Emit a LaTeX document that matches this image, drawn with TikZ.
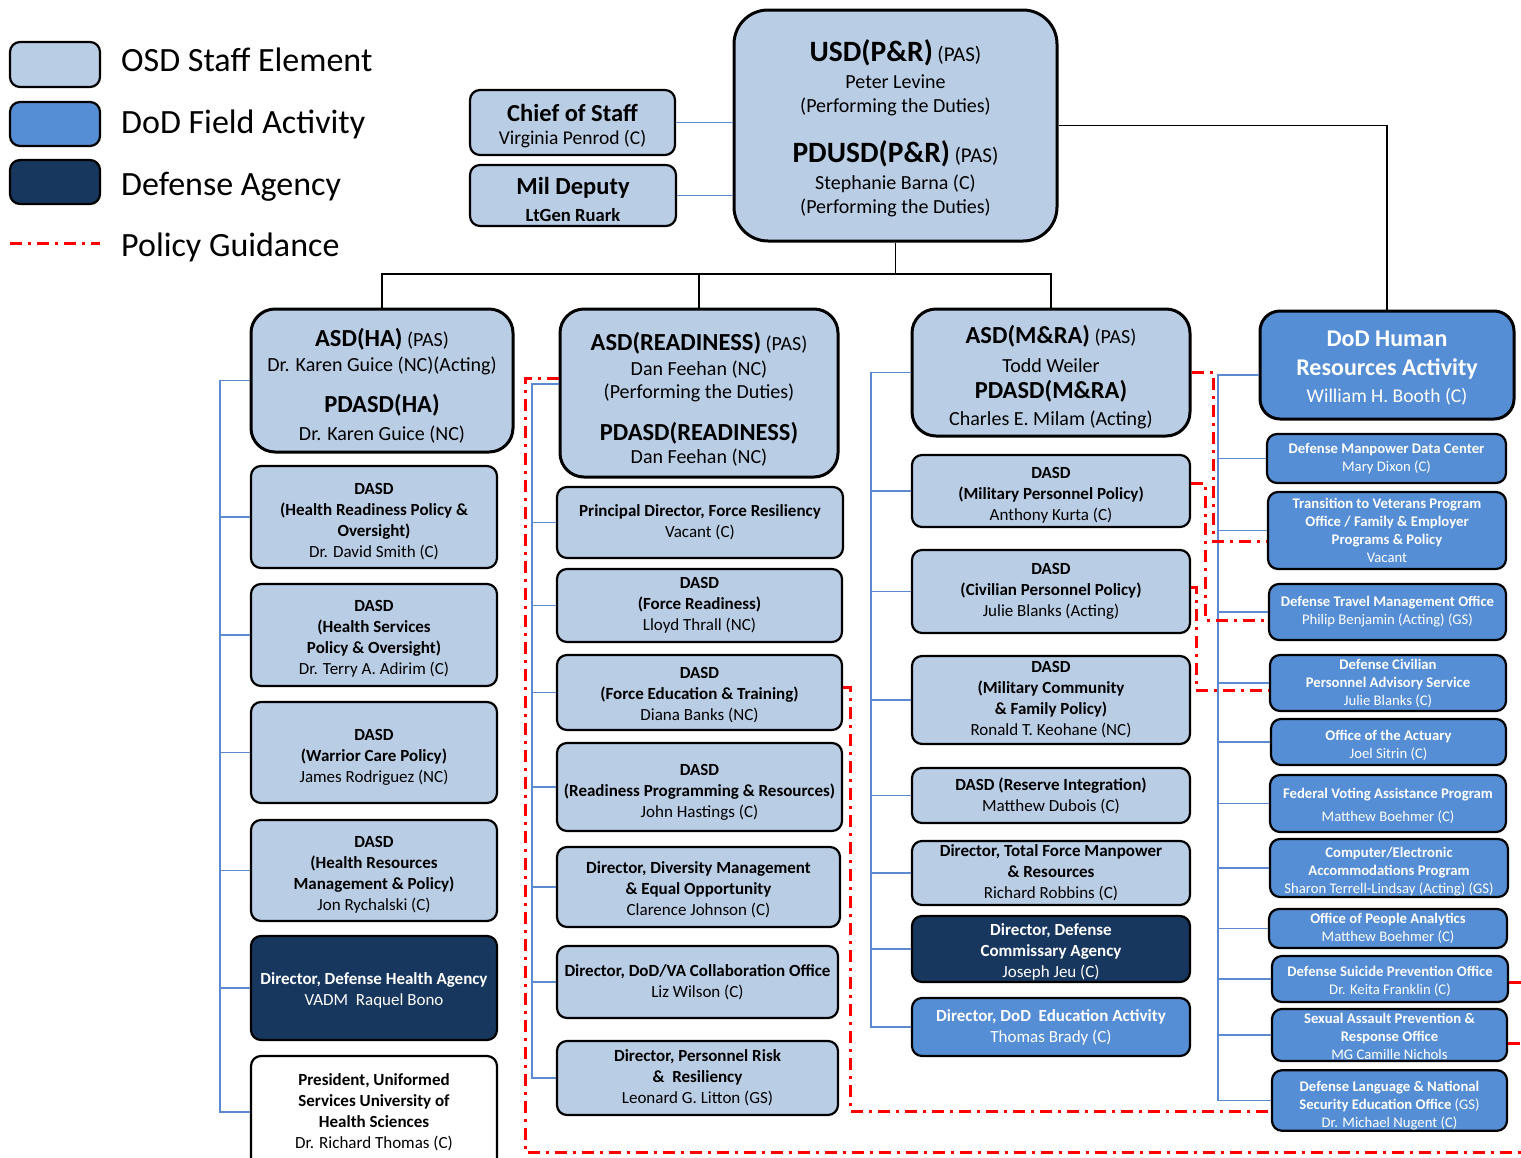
\documentclass[tikz,border=0pt]{standalone}
\usepackage{fontspec}
\setmainfont{Carlito}
\definecolor{osdc}{HTML}{B9CDE5}
\definecolor{fldc}{HTML}{558ED5}
\definecolor{agc}{HTML}{17375E}
\definecolor{linec}{HTML}{5B8AD0}
\newcommand\fs[2]{\fontsize{#1}{#2}\selectfont}
\newcommand\pd[1]{\rule{0pt}{#1pt}}
\newcommand\hd[1]{{\bfseries\fs{24.5}{25}#1}}
\newcommand\bx[7]{%
 \pgfmathsetmacro\bw{#5-#3}\pgfmathsetmacro\bh{#6-#4}%
 \pgfmathsetmacro\bcx{(#3+#5)/2}\pgfmathsetmacro\bcy{(#4+#6)/2}%
 \node[#2, minimum width=\bw pt, minimum height=\bh pt] (#1) at (\bcx,\bcy) {#7};}
\tikzset{
 bx/.style={draw=black, line width=2.2pt, rounded corners=10pt, inner sep=1pt, align=center, text=black, font=\fs{17}{21}},
 lt/.style={bx, fill=osdc},
 md/.style={bx, fill=fldc, text=white},
 dk/.style={bx, fill=agc, text=white},
 wh/.style={bx, fill=white},
 big/.style={rounded corners=24pt, line width=3pt, font=\fs{20}{25}},
 hr/.style={font=\fs{14.7}{18}},
 bl/.style={draw=linec, line width=1.8pt},
 bk/.style={draw=black, line width=1.7pt},
 pg/.style={draw=red, line width=3pt, dash pattern=on 12pt off 6pt on 3pt off 6pt},
 lgt/.style={anchor=base west, inner sep=0pt, font=\fs{34}{40}},
}
\begin{document}
\begin{tikzpicture}[x=1pt,y=-1pt]
\clip (0,0) rectangle (1521,1157);
\fill[white] (0,0) rectangle (1521,1157);
% legend
\bx{lg1}{lt}{10}{42}{100}{87}{}
\bx{lg2}{md}{10}{102}{100}{146}{}
\bx{lg3}{dk}{10}{160}{100}{204}{}
\node[lgt] (lt1) at (121,71) {OSD Staff Element};
\node[lgt] (lt2) at (121,133) {DoD Field Activity};
\node[lgt] (lt3) at (121,195) {Defense Agency};
\node[lgt] (lt4) at (121,256) {Policy Guidance};
\coordinate (pgA) at (10,243); \coordinate (pgB) at (100,243);
\draw[pg] (pgA) -- (pgB);
% top
\bx{cos}{lt}{470}{90}{675}{155}{\pd{25}\hd{Chief of Staff}\\[2pt] {\fs{19.5}{22}Virginia Penrod (C)}}
\bx{mil}{lt}{470}{165}{676}{226}{\pd{25}\hd{Mil Deputy}\\[6pt] {\bfseries\fs{18.6}{22}LtGen Ruark}}
\bx{usd}{lt,big,rounded corners=34pt,font=\fs{20}{24}}{734}{10}{1057}{241}{\pd{27}{\bfseries\fs{29.5}{25}USD(P\&R)} {\fs{21}{25}(PAS)}\\[3pt] Peter Levine\\ (Performing the Duties)\\[23.6pt] {\bfseries\fs{29.5}{25}PDUSD(P\&R)} {\fs{21}{25}(PAS)}\\[3pt] Stephanie Barna (C)\\ (Performing the Duties)}
% column 1
\bx{asdha}{lt,big}{251}{309}{513}{452}{\pd{28}\hd{ASD(HA)} (PAS)\\[0pt] Dr. Karen Guice (NC)(Acting)\\[16pt] \hd{PDASD(HA)}\\[3pt] Dr. Karen Guice (NC)}
\bx{hrpo}{lt}{251}{466}{497}{568}{\pd{20}\textbf{DASD}\\ \textbf{(Health Readiness Policy \&}\\ \textbf{Oversight)}\\ Dr. David Smith (C)}
\bx{hspo}{lt}{251}{584}{497}{686}{\pd{18}\textbf{DASD}\\ \textbf{(Health Services}\\ \textbf{Policy \& Oversight)}\\ Dr. Terry A. Adirim (C)}
\bx{wcp}{lt}{251}{702}{497}{803}{\pd{21}\textbf{DASD}\\ \textbf{(Warrior Care Policy)}\\ James Rodriguez (NC)}
\bx{hrmp}{lt}{251}{820}{497}{921}{\pd{19}\textbf{DASD}\\ \textbf{(Health Resources}\\ \textbf{Management \& Policy)}\\ Jon Rychalski (C)}
\bx{dha}{dk}{251}{936}{497}{1040}{\pd{17}\textbf{Director, Defense Health Agency}\\ VADM~~Raquel Bono}
\bx{usuhs}{wh}{251}{1056}{497}{1168}{\textbf{President, Uniformed}\\ \textbf{Services University of}\\ \textbf{Health Sciences}\\ Dr. Richard Thomas (C)}
% column 2
\bx{asdr}{lt,big}{560}{309}{838}{477}{\pd{30}\hd{ASD(READINESS)} (PAS)\\[0pt] Dan Feehan (NC)\\[-2pt] (Performing the Duties)\\[17pt] \hd{PDASD(READINESS)}\\[-2pt] Dan Feehan (NC)}
\bx{pdfr}{lt}{557}{487}{843}{558}{\textbf{Principal Director, Force Resiliency}\\ Vacant (C)}
\bx{fr}{lt}{557}{569}{842}{642}{\textbf{DASD}\\ \textbf{(Force Readiness)}\\ Lloyd Thrall (NC)}
\bx{fet}{lt}{557}{655}{842}{730}{\pd{17}\textbf{DASD}\\ \textbf{(Force Education \& Training)}\\ Diana Banks (NC)}
\bx{rpr}{lt}{557}{743}{842}{831}{\pd{21}\textbf{DASD}\\ \textbf{(Readiness Programming \& Resources)}\\ John Hastings (C)}
\bx{dm}{lt}{557}{847}{840}{927}{\pd{17}\textbf{Director, Diversity Management}\\ \textbf{\& Equal Opportunity}\\ Clarence Johnson (C)}
\bx{va}{lt}{557}{946}{838}{1018}{\textbf{Director, DoD/VA Collaboration Office}\\ Liz Wilson (C)}
\bx{prr}{lt}{557}{1041}{838}{1115}{\textbf{Director, Personnel Risk}\\ \textbf{\&~~Resiliency}\\ Leonard G. Litton (GS)}
% column 3
\bx{asdmra}{lt,big}{912}{309}{1190}{436}{\pd{28}\hd{ASD(M\&RA)} (PAS)\\[4pt] Todd Weiler\\[1pt] \hd{PDASD(M\&RA)}\\[2pt] Charles E. Milam (Acting)}
\bx{mpp}{lt}{912}{455}{1190}{527}{\pd{19}\textbf{DASD}\\ \textbf{(Military Personnel Policy)}\\ Anthony Kurta (C)}
\bx{cpp}{lt}{912}{550}{1190}{633}{\textbf{DASD}\\ \textbf{(Civilian Personnel Policy)}\\ Julie Blanks (Acting)}
\bx{mcfp}{lt}{912}{656}{1190}{744}{\textbf{DASD}\\ \textbf{(Military Community}\\ \textbf{\& Family Policy)}\\ Ronald T. Keohane (NC)}
\bx{ri}{lt}{912}{768}{1190}{823}{\textbf{DASD (Reserve Integration)}\\ Matthew Dubois (C)}
\bx{tfm}{lt}{912}{841}{1190}{905}{\textbf{Director, Total Force Manpower}\\ \textbf{\& Resources}\\ Richard Robbins (C)}
\bx{deca}{dk}{912}{916}{1190}{982}{\pd{17}\textbf{Director, Defense}\\ \textbf{Commissary Agency}\\ Joseph Jeu (C)}
\bx{dodea}{md}{912}{998}{1190}{1056}{\textbf{Director, DoD~~Education Activity}\\ Thomas Brady (C)}
% column 4
\bx{hra}{md,big,rounded corners=20pt,font=\fs{19.5}{25}}{1260}{311}{1514}{419}{\pd{22}{\bfseries\fs{24}{25}DoD Human}\\[4pt] {\bfseries\fs{24}{25}Resources Activity}\\[2pt] William H. Booth (C)}
\bx{dmdc}{md,hr}{1267}{434}{1506}{483}{\textbf{Defense Manpower Data Center}\\ Mary Dixon (C)}
\bx{tvpo}{md,hr}{1268}{492}{1506}{569}{\textbf{Transition to Veterans Program}\\ \textbf{Office / Family \& Employer}\\ \textbf{Programs \& Policy}\\ Vacant}
\bx{dtmo}{md,hr}{1269}{584}{1506}{640}{\textbf{Defense Travel Management Office}\\ Philip Benjamin (Acting) (GS)}
\bx{dcpas}{md,hr}{1270}{655}{1506}{711}{\textbf{Defense Civilian}\\ \textbf{Personnel Advisory Service}\\ Julie Blanks (C)}
\bx{act}{md,hr}{1271}{719}{1506}{765}{\pd{18}\textbf{Office of the Actuary}\\ Joel Sitrin (C)}
\bx{fvap}{md,hr}{1270}{775}{1506}{832}{\pd{16}\textbf{Federal Voting Assistance Program}\\[5pt] Matthew Boehmer (C)}
\bx{cap}{md,hr}{1270}{839}{1508}{897}{\pd{17}\textbf{Computer/Electronic}\\ \textbf{Accommodations Program}\\ Sharon Terrell-Lindsay (Acting) (GS)}
\bx{opa}{md,hr}{1269}{909}{1507}{948}{\textbf{Office of People Analytics}\\ Matthew Boehmer (C)}
\bx{dspo}{md,hr}{1272}{956}{1508}{1002}{\pd{16}\textbf{Defense Suicide Prevention Office}\\ Dr. Keita Franklin (C)}
\bx{sapro}{md,hr}{1272}{1010}{1507}{1060}{\pd{14}\textbf{Sexual Assault Prevention \&}\\ \textbf{Response Office}\\ MG Camille Nichols}
\bx{dlnseo}{md,hr}{1272}{1071}{1507}{1130}{\pd{20}\textbf{Defense Language \& National}\\ \textbf{Security Education Office} (GS)\\ Dr. Michael Nugent (C)}
% black reporting lines
\coordinate (bus) at (895,274);
\draw[bk] (usd.south) -- (usd.south |- bus);
\draw[bk] (asdha.north) -- (asdha.north |- bus) -- (asdmra.north |- bus) -- (asdmra.north);
\draw[bk] (asdr.north) -- (asdr.north |- bus);
\draw[bk] (usd.east) -| (hra.north);
\draw[bl] (cos.east) -- (cos.east -| usd.west);
\draw[bl] (mil.east) -- (mil.east -| usd.west);
% blue brackets
\coordinate (sp1) at (220,0); \coordinate (sp2) at (532,0);
\coordinate (sp3) at (871,0); \coordinate (sp4) at (1218,0);
\draw[bl] (asdha.west) -- (asdha.west -| sp1) -- (usuhs.west -| sp1) -- (usuhs.west);
\foreach \n in {hrpo,hspo,wcp,hrmp,dha} \draw[bl] (\n.west) -- (\n.west -| sp1);
\draw[bl] ([yshift=9pt]asdr.west) -- ([yshift=9pt]asdr.west -| sp2) -- (prr.west -| sp2) -- (prr.west);
\foreach \n in {pdfr,fr,fet,rpr,dm,va} \draw[bl] (\n.west) -- (\n.west -| sp2);
\draw[bl] (asdmra.west) -- (asdmra.west -| sp3) -- (dodea.west -| sp3) -- (dodea.west);
\foreach \n in {mpp,cpp,mcfp,ri,tfm,deca} \draw[bl] (\n.west) -- (\n.west -| sp3);
\draw[bl] ([yshift=-10pt]hra.west) -- ([yshift=-10pt]hra.west -| sp4) -- (dlnseo.west -| sp4) -- (dlnseo.west);
\foreach \n in {dmdc,tvpo,dtmo,dcpas,act,fvap,cap,opa,dspo,sapro} \draw[bl] (\n.west) -- (\n.west -| sp4);
% policy guidance
\coordinate (r1a) at (525,378); \coordinate (r1b) at (525,1152); \coordinate (r1c) at (1521,1152);
\draw[pg] ([yshift=15pt]asdr.west) -- (r1a) -- (r1b) -- (r1c);
\coordinate (r2) at (850,1111);
\draw[pg] ([yshift=5.5pt]fet.east) -| (r2) -- ([yshift=-10.5pt]dlnseo.west);
\coordinate (r3) at (1213,541);
\draw[pg] (asdmra.east) -| (r3) -- ([yshift=-10.5pt]tvpo.west);
\coordinate (r4) at (1205,620);
\draw[pg] ([yshift=8pt]mpp.east) -| (r4) -- ([yshift=-8pt]dtmo.west);
\coordinate (r5) at (1196,690);
\draw[pg] ([yshift=4.5pt]cpp.east) -| (r5) -- ([yshift=-7pt]dcpas.west);
\coordinate (r6) at (1521,982); \coordinate (r7) at (1521,1043);
\draw[pg] ([yshift=-3pt]dspo.east) -- (r6);
\draw[pg] ([yshift=-8pt]sapro.east) -- (r7);
\end{tikzpicture}
\end{document}
